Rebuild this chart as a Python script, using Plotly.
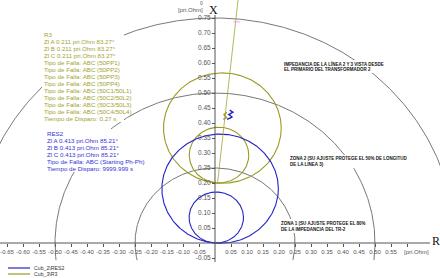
import numpy as np
import plotly.graph_objects as go

# ---------------- data ----------------
# mho circles: (center_R, center_X, radius) in pri.Ohm
r3_circles = [(0.023, 0.383, 0.184), (0.0125, 0.293, 0.093)]
res2_circles = [(0.016, 0.181, 0.182), (0.004, 0.085, 0.085)]
ref_arc_radii = [0.25, 0.50, 0.75]
r3_line_R = [0.008, 0.072]
r3_line_X = [0.200, 0.810]
r3_mark_R = [0.068]
r3_mark_X = [0.737]
r3_fault_R = [0.026, 0.036, 0.028, 0.037]
r3_fault_X = [0.412, 0.418, 0.428, 0.436]
res2_fault_R = [0.038, 0.054, 0.043, 0.056, 0.046]
res2_fault_X = [0.412, 0.420, 0.428, 0.436, 0.443]

x_tickvals = [-0.65, -0.60, -0.55, -0.50, -0.45, -0.40, -0.35, -0.30, -0.25, -0.20,
              -0.15, -0.10, -0.05, 0.05, 0.10, 0.15, 0.20, 0.25, 0.30, 0.35, 0.40,
              0.45, 0.50, 0.55, 0.60]
x_ticktext = ["-0.65", "-0.60", "-0.55", "-0.50", "-0.45", "-0.40", "-0.35", "-0.30",
              "-0.25", "-0.20", "-0.15", "-0.10", "-0.05", "0.05", "0.10", "0.15",
              "0.20", "0.25", "0.30", "0.35", "0.40", "0.45", "0.50", "0.55", ""]
x_unit = "[pri.Ohm]"
y_tickvals = [-0.05, 0.05, 0.10, 0.15, 0.20, 0.25, 0.30, 0.35, 0.40, 0.45, 0.50,
              0.55, 0.60, 0.65, 0.70, 0.75]
y_ticktext = ["-0.05", "0.05", "0.10", "0.15", "0.20", "0.25", "0.30", "0.35", "0.40",
              "0.45", "0.50", "0.55", "0.60", "0.65", "0.70", "0.75"]

r3_text = ["R3",
           "Zl A 0.211 pri.Ohm 83.27°",
           "Zl B 0.211 pri.Ohm 83.27°",
           "Zl C 0.211 pri.Ohm 83.27°",
           "Tipo de Falla: ABC (50PP1)",
           "Tipo de Falla: ABC (50PP2)",
           "Tipo de Falla: ABC (50PP3)",
           "Tipo de Falla: ABC (50PP4)",
           "Tipo de Falla: ABC (50C1/50L1)",
           "Tipo de Falla: ABC (50C2/50L2)",
           "Tipo de Falla: ABC (50C3/50L3)",
           "Tipo de Falla: ABC (50C4/50L4)",
           "Tiempo de Disparo: 0.27 s"]
res2_text = ["RES2",
             "Zl A 0.413 pri.Ohm 85.21°",
             "Zl B 0.413 pri.Ohm 85.21°",
             "Zl C 0.413 pri.Ohm 85.21°",
             "Tipo de Falla: ABC (Starting Ph-Ph)",
             "Tiempo de Disparo: 9999.999 s"]
note_line = ["IMPEDANCIA DE LA LÍNEA 2 Y 3 VISTA DESDE", "EL PRIMARIO DEL TRANSFORMADOR 2"]
note_z2 = ["ZONA 2 (SU AJUSTE PROTEGE EL 50% DE LONGITUD", "DE LA LINEA 3)"]
note_z1 = ["ZONA 1 (SU AJUSTE PROTEGE EL 80%", "DE LA IMPEDANCIA DEL TR-2"]
legend_names = ["Cub_2\\RES2", "Cub_3\\R3"]

# ---------------- styling / layout helpers ----------------
W, H = 440, 278
OX, OY = 215.0, 243.0   # pixel of origin
SX, SY = 320.0, 300.0   # pixels per pri.Ohm
def px2x(px): return (px - OX) / SX
def py2y(py): return (OY - py) / SY

OLIVE = "#9a9a22"
OLIVE_T = "#a3a332"
BLUE = "#2323c8"
BLUE_T = "#3434d6"
GRAY = "#555555"
FONT = "Liberation Sans"

fig = go.Figure()

# reference arcs (centered at origin)
ymin_arc = -0.057
for r in ref_arc_radii:
    a0 = np.arcsin(ymin_arc / r)
    t = np.linspace(a0, np.pi - a0, 400)
    fig.add_trace(go.Scatter(x=r * np.cos(t), y=r * np.sin(t), mode="lines",
                             line=dict(color=GRAY, width=0.8), hoverinfo="skip",
                             showlegend=False))

# circles
t = np.linspace(0, 2 * np.pi, 361)
for (cx, cy, rr) in r3_circles:
    fig.add_trace(go.Scatter(x=cx + rr * np.cos(t), y=cy + rr * np.sin(t), mode="lines",
                             line=dict(color=OLIVE, width=1.1), showlegend=False))
for (cx, cy, rr) in res2_circles:
    fig.add_trace(go.Scatter(x=cx + rr * np.cos(t), y=cy + rr * np.sin(t), mode="lines",
                             line=dict(color=BLUE, width=1.1), showlegend=False))

# R3 characteristic line
fig.add_trace(go.Scatter(x=r3_line_R, y=r3_line_X, mode="lines",
                         line=dict(color=OLIVE_T, width=0.8), showlegend=False))
fig.add_trace(go.Scatter(x=r3_mark_R, y=r3_mark_X, mode="markers",
                         marker=dict(symbol="line-ew-open", size=5,
                                     line=dict(color=OLIVE_T, width=1)), showlegend=False))
# fault impedance traces
fig.add_trace(go.Scatter(x=r3_fault_R, y=r3_fault_X, mode="lines",
                         line=dict(color=OLIVE, width=1.4), showlegend=False))
fig.add_trace(go.Scatter(x=res2_fault_R, y=res2_fault_X, mode="lines",
                         line=dict(color=BLUE, width=1.4), showlegend=False))

shapes = [dict(type="line", xref="x", yref="y", x0=0, x1=0, y0=py2y(262), y1=py2y(15),
               line=dict(color=GRAY, width=1)),
          dict(type="line", xref="x", yref="y", x0=px2x(0), x1=px2x(430), y0=0, y1=0,
               line=dict(color=GRAY, width=1))]

def mask(px0, py0, px1, py1):
    shapes.append(dict(type="rect", xref="x", yref="y", layer="above",
                       x0=px2x(px0), x1=px2x(px1), y0=py2y(py1), y1=py2y(py0),
                       fillcolor="white", line=dict(width=0)))

annotations = []
def add_text(txt, px, py, size, color, xanchor="left", bg="rgba(0,0,0,0)", family=FONT):
    annotations.append(dict(x=px2x(px), y=py2y(py), xref="x", yref="y", text=txt,
                            showarrow=False, xanchor=xanchor, yanchor="middle",
                            font=dict(family=family, size=size, color=color),
                            bgcolor=bg, borderpad=0))

# text blocks with white masks behind them
R3_Y0, R3_DY = 34.0, 7.0
mask(42, R3_Y0 - 4, 124, R3_Y0 + 12 * R3_DY + 4)
for i, s in enumerate(r3_text):
    add_text(s, 43, R3_Y0 + i * R3_DY, 6.2, OLIVE_T)
RS_Y0, RS_DY = 133.0, 7.0
mask(45, RS_Y0 - 4, 142, RS_Y0 + 5 * RS_DY + 4)
for i, s in enumerate(res2_text):
    add_text(s, 46, RS_Y0 + i * RS_DY, 6.2, BLUE_T)

mask(282, 60, 378, 73)
for i, s in enumerate(note_line):
    add_text("<b>%s</b>" % s, 283, 63.5 + i * 5.6, 4.5, "#111111")
mask(288, 155, 399, 168)
for i, s in enumerate(note_z2):
    add_text("<b>%s</b>" % s, 289, 158.5 + i * 5.6, 4.5, "#111111")
mask(279, 219, 359, 233)
for i, s in enumerate(note_z1):
    add_text("<b>%s</b>" % s, 280, 223.5 + i * 5.6, 4.5, "#111111")

add_text(x_unit, 403, 252, 6, GRAY)
add_text("[pri.Ohm]", 204, 10, 6, GRAY, xanchor="right", bg="white")
add_text("0", 201, 3, 5, GRAY, xanchor="center")
add_text("X", 213, 10, 12, "#111111", xanchor="center", family="Liberation Serif")
add_text("R", 436, 241, 12, "#111111", xanchor="center", family="Liberation Serif")

# legend (custom)
leg_colors = [BLUE, OLIVE]
for i, (nm, c) in enumerate(zip(legend_names, leg_colors)):
    yy = 268 + i * 6
    shapes.append(dict(type="line", xref="x", yref="y", x0=px2x(8), x1=px2x(30),
                       y0=py2y(yy), y1=py2y(yy), line=dict(color=c, width=1.2)))
    add_text(nm, 33, yy, 5.2, "#333333")

fig.update_layout(
    width=W, height=H, margin=dict(l=0, r=0, t=0, b=0),
    paper_bgcolor="white", plot_bgcolor="white", showlegend=False,
    shapes=shapes, annotations=annotations,
    xaxis=dict(range=[px2x(0), px2x(W)], anchor="free", position=(H - OY) / H,
               showgrid=False, zeroline=False, showline=False,
               tickmode="array", tickvals=x_tickvals, ticktext=x_ticktext,
               tickangle=0, ticks="outside", ticklen=3, tickcolor=GRAY, tickwidth=0.8,
               tickfont=dict(family=FONT, size=6, color=GRAY), fixedrange=True),
    yaxis=dict(range=[py2y(H), py2y(0)], anchor="free", position=OX / W,
               showgrid=False, zeroline=False, showline=False,
               tickmode="array", tickvals=y_tickvals, ticktext=y_ticktext,
               ticks="outside", ticklen=3, tickcolor=GRAY, tickwidth=0.8,
               tickfont=dict(family=FONT, size=6.5, color=GRAY), fixedrange=True),
)

fig.write_html("out.html")
